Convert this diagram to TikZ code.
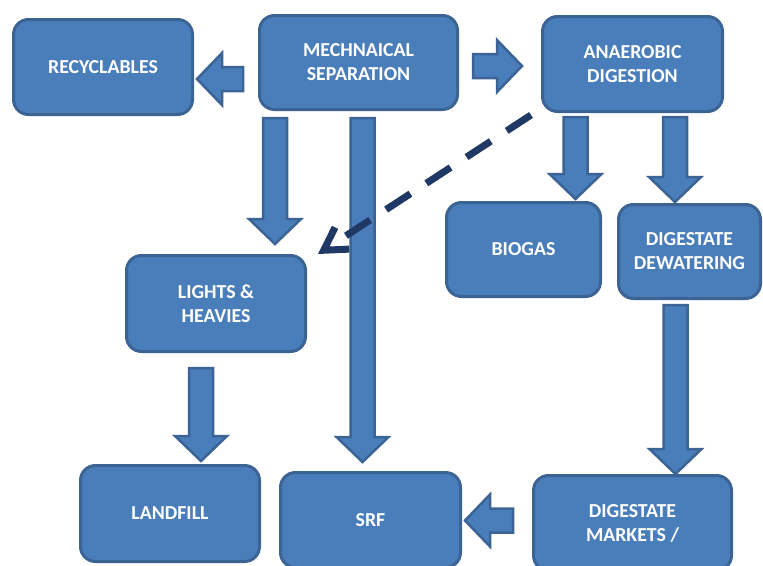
\documentclass[tikz,border=0pt]{standalone}
\usepackage{fontspec}
\setmainfont{Carlito}
\usetikzlibrary{calc,arrows.meta}
\definecolor{boxfill}{HTML}{4A7EBB}
\definecolor{boxline}{HTML}{3B6394}
\definecolor{navy}{HTML}{1F3864}

% Block arrow from #1 (tail) to #2 (tip): shaft 24pt wide, head 52pt wide, 25pt long
\newcommand\fatarrow[2]{%
  \draw[fat] let \p1=#1, \p2=#2, \p3=($#2!25pt!#1$) in
    ($(\p1)!12pt!90:(\p2)$) -- ($(\p3)!12pt!-90:(\p1)$) -- ($(\p3)!26pt!-90:(\p1)$) -- (\p2)
    -- ($(\p3)!26pt!90:(\p1)$) -- ($(\p3)!12pt!90:(\p1)$) -- ($(\p1)!12pt!-90:(\p2)$) -- cycle;}

\begin{document}
\begin{tikzpicture}[x=1pt,y=-1pt,
  stage/.style={draw=boxline, fill=boxfill, line width=3pt, rounded corners=15pt,
    text=white, font=\bfseries\fontsize{19.8}{24}\selectfont, align=center, inner sep=0pt},
  fat/.style={draw=boxline, fill=boxfill, line width=2.5pt, line join=miter},
  link/.style={draw=navy, line width=7pt, dash pattern=on 29pt off 19pt,
    -{Straight Barb[length=22pt,width=26pt]}}]

\useasboundingbox (0,0) rectangle (763,565);

% process stages
\node[stage, minimum width=179pt, minimum height=95pt] (rec) at (103,67) {RECYCLABLES};
\node[stage, minimum width=198pt, minimum height=94pt] (ms) at (358.5,62.5) {MECHNAICAL\\SEPARATION};
\node[stage, minimum width=180pt, minimum height=95pt] (ad) at (632.5,64) {ANAEROBIC\\DIGESTION};
\node[stage, minimum width=154pt, minimum height=94pt] (bio) at (523.5,249.5) {BIOGAS};
\node[stage, minimum width=142pt, minimum height=94pt] (dd) at (689.5,251.5) {DIGESTATE\\DEWATERING};
\node[stage, minimum width=179pt, minimum height=96pt] (lh) at (216,303.5) {LIGHTS \&\\HEAVIES};
\node[stage, minimum width=179pt, minimum height=96pt] (lf) at (170,513.5) {LANDFILL};
\node[stage, minimum width=180pt, minimum height=95pt] (srf) at (370.5,520) {SRF};
\node[stage, minimum width=198pt, minimum height=95pt] (dm) at (632.5,523) {DIGESTATE\\MARKETS /};

% material flows
\fatarrow{(243,79)}{(197,79)}
\fatarrow{(473,66)}{(522,66)}
\fatarrow{(275,118)}{(275,244)}
\fatarrow{(362.5,118)}{(362.5,462)}
\fatarrow{(575.5,117)}{(575.5,199)}
\fatarrow{(675,117)}{(675,202)}
\fatarrow{(201,368)}{(201,461)}
\fatarrow{(675.5,305)}{(675.5,474)}
\fatarrow{(513,520.5)}{(465,520.5)}

% digestate return to lights & heavies
\draw[link] ($(ad.south west)+(-10,2)$) -- ($(lh.north east)+(11,0)$);
\end{tikzpicture}
\end{document}
